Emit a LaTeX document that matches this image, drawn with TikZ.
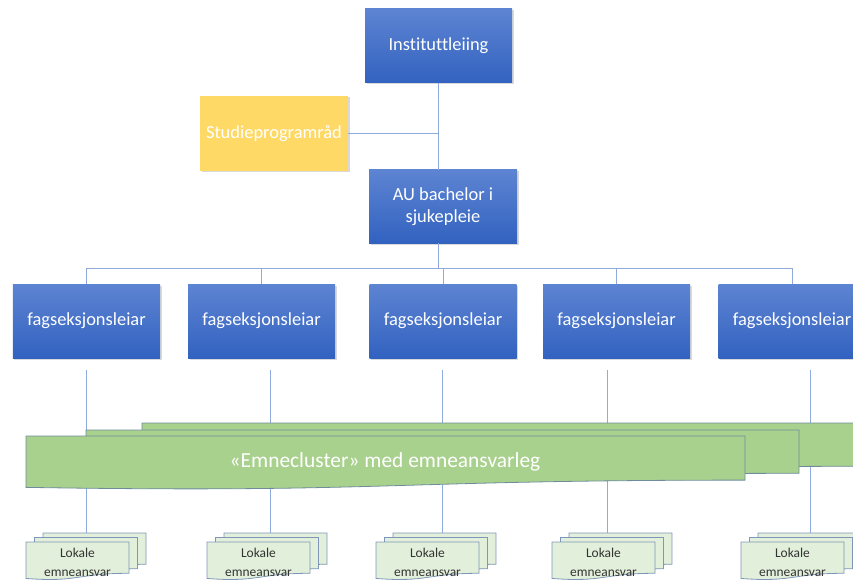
\documentclass[tikz,border=0pt]{standalone}
\usepackage{fontspec}
\setmainfont{Carlito}[Ligatures={NoCommon}]
\usetikzlibrary{shadows}

\definecolor{blaatopp}{RGB}{93,132,210}
\definecolor{blaabotn}{RGB}{50,98,192}
\definecolor{gul}{RGB}{255,217,102}
\definecolor{gronn}{RGB}{169,209,142}
\definecolor{gronnkant}{RGB}{110,140,155}
\definecolor{lokfyll}{RGB}{226,239,218}
\definecolor{lokkant}{RGB}{125,150,185}
\definecolor{linje}{RGB}{143,170,220}

\tikzset{
  boks/.style={rectangle, minimum width=147bp, minimum height=74bp, text=white,
    font=\fontsize{18.5}{22}\selectfont, align=center,
    drop shadow={shadow xshift=1.5bp, shadow yshift=-1.5bp, opacity=0.3}},
  leiarboks/.style={boks, top color=blaatopp, bottom color=blaabotn},
  raadboks/.style={boks, fill=gul},
  samband/.style={draw=linje, line width=1bp},
  klusterark/.style={fill=gronn, draw=gronnkant, line width=0.8bp},
  lokark/.style={fill=lokfyll, draw=lokkant, line width=0.8bp},
  klustertekst/.style={text=white, font=\fontsize{21.5}{26}\selectfont},
  loktekst/.style={text=black!80, font=\fontsize{13.5}{19}\selectfont, align=center}
}

% ark med boelgja botn: stil, x, y, breidd, hogd
\newcommand{\dokark}[5]{%
  \filldraw[#1] (#2,#3) -- (#2+#4,#3) -- (#2+#4,#3+0.802*#5)
    .. controls (#2+0.5*#4,#3+0.802*#5) and (#2+0.5*#4,#3+1.04*#5) .. (#2,#3+0.934*#5) -- cycle;}

% tre ark i bunke: namn, x, y (framste ark)
\newcommand{\lokbunke}[3]{%
  \dokark{lokark}{#2+17}{#3-9}{103}{39}
  \dokark{lokark}{#2+8.5}{#3-4.5}{103}{39}
  \dokark{lokark}{#2}{#3}{103}{39}
  \coordinate (topp-#1) at (#2+17,#3-9);
  \node[loktekst] (#1) at (#2+51.5,#3+20.5) {Lokale\\emneansvar};}

\begin{document}
\begin{tikzpicture}[x=1bp, y=-1bp]
  \useasboundingbox (0,0) rectangle (853,580);

  \node[leiarboks] (inst) at (438.5,46) {Instituttleiing};
  \node[raadboks, minimum width=148bp, minimum height=75bp] (stud) at (274,133.5) {Studieprogramråd};
  \node[leiarboks, minimum width=148bp, minimum height=73bp] (au) at (443,206.5) {AU bachelor i\\sjukepleie};
  \coordinate (buss) at (438.5,268);

  \draw[samband] (inst.south) -- (inst.south |- au.north);
  \draw[samband] (stud.east) -- (stud.east -| inst.south);
  \draw[samband] (au.south -| inst.south) -- (buss);

  \foreach \i/\x/\dx/\lx in {1/86.5/86/26, 2/261.5/270/207, 3/443/442/376, 4/616.5/607/552, 5/792/810/741} {
    \node[leiarboks] (f\i) at (\x,321) {fagseksjonsleiar};
    \draw[samband] (f\i.north) -- (f\i.north |- buss);
    \coordinate (d\i) at (\dx,370);
    \lokbunke{lok\i}{\lx}{542}
    \draw[samband] (d\i) -- (d\i |- topp-lok\i);
  }
  \draw[samband] (f1.north |- buss) -- (f5.north |- buss);

  % emnecluster
  \dokark{klusterark}{142}{423}{713}{54}
  \dokark{klusterark}{86}{430}{713}{54}
  \dokark{klusterark}{26}{436}{719}{55}
  \node[klustertekst] (kluster) at (385,462) {«Emnecluster» med emneansvarleg};
\end{tikzpicture}
\end{document}
